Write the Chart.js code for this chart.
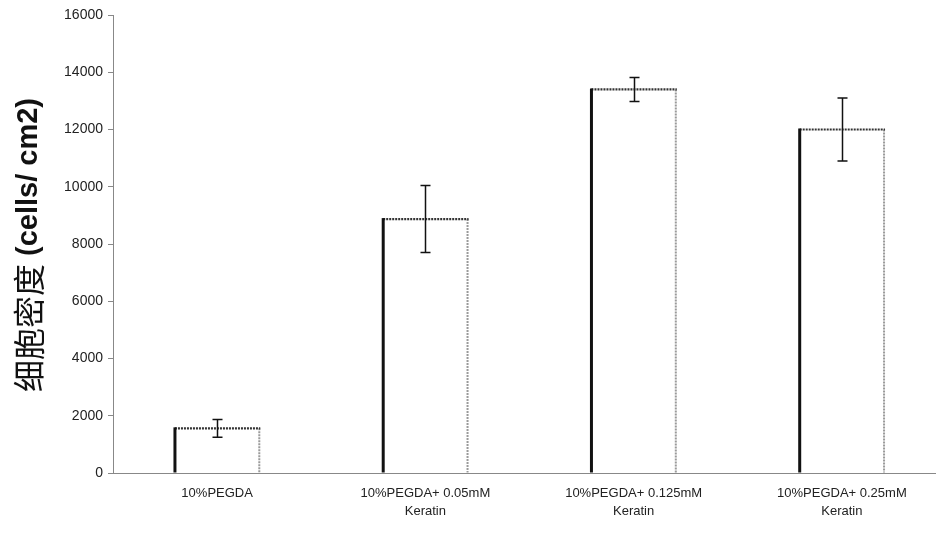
<!DOCTYPE html>
<html>
<head>
<meta charset="utf-8">
<script src="https://cdn.jsdelivr.net/npm/chart.js@4/dist/chart.umd.min.js"></script>
<style>
  html, body { margin: 0; padding: 0; background: #fff; overflow: hidden; }
  #wrap { width: 946px; height: 535px; }
</style>
</head>
<body>
<div id="wrap"><canvas id="c" width="946" height="535"></canvas></div>
<script>
const categories = [
  ["10%PEGDA"],
  ["10%PEGDA+ 0.05mM", "Keratin"],
  ["10%PEGDA+ 0.125mM", "Keratin"],
  ["10%PEGDA+ 0.25mM", "Keratin"]
];
const cellDensity = [1560, 8870, 13400, 12000];
const errorValues = [310, 1170, 420, 1100];
const yTicks = [0, 2000, 4000, 6000, 8000, 10000, 12000, 14000, 16000];
const yTitleCJK = "细胞密度";
const yTitleLatin = " (cells/ cm2)";

const barEdges = {
  id: 'barEdges',
  afterDatasetsDraw(chart) {
    const ctx = chart.ctx;
    const meta = chart.getDatasetMeta(0);
    meta.data.forEach(bar => {
      const { x, y, base, width } = bar.getProps(['x', 'y', 'base', 'width'], true);
      const l = x - width / 2, r = x + width / 2;
      ctx.save();
      ctx.strokeStyle = '#9a9a9a';
      ctx.lineWidth = 2;
      ctx.setLineDash([2, 1]);
      ctx.beginPath(); ctx.moveTo(r, y); ctx.lineTo(r, base); ctx.stroke();
      ctx.strokeStyle = '#333';
      ctx.lineWidth = 2.2;
      ctx.setLineDash([2, 1]);
      ctx.beginPath(); ctx.moveTo(l, y); ctx.lineTo(r + 1, y); ctx.stroke();
      ctx.setLineDash([]);
      ctx.strokeStyle = '#111';
      ctx.lineWidth = 3;
      ctx.beginPath(); ctx.moveTo(l, y - 1); ctx.lineTo(l, base); ctx.stroke();
      ctx.restore();
    });
  }
};

const errorBars = {
  id: 'errorBars',
  afterDatasetsDraw(chart) {
    const ctx = chart.ctx;
    const ys = chart.scales.y;
    const meta = chart.getDatasetMeta(0);
    meta.data.forEach((bar, i) => {
      const v = cellDensity[i], e = errorValues[i];
      const x = Math.round(bar.x) + 0.5;
      const top = ys.getPixelForValue(v + e);
      const bot = ys.getPixelForValue(v - e);
      ctx.save();
      ctx.strokeStyle = '#111';
      ctx.lineWidth = 1.5;
      ctx.beginPath();
      ctx.moveTo(x, top); ctx.lineTo(x, bot);
      ctx.moveTo(x - 5, top); ctx.lineTo(x + 5, top);
      ctx.moveTo(x - 5, bot); ctx.lineTo(x + 5, bot);
      ctx.stroke();
      ctx.restore();
    });
  }
};

const yTitle = {
  id: 'yTitle',
  afterDraw(chart) {
    const ctx = chart.ctx;
    ctx.save();
    ctx.translate(28, 245);
    ctx.rotate(-Math.PI / 2);
    ctx.textBaseline = 'middle';
    ctx.fillStyle = '#111';
    const f1 = "32px 'Noto Sans CJK SC'";
    const f2 = "bold 29px 'Liberation Sans', Arial, sans-serif";
    ctx.font = f1; const w1 = ctx.measureText(yTitleCJK).width;
    ctx.font = f2; const w2 = ctx.measureText(yTitleLatin).width;
    const sx = -(w1 + w2) / 2;
    ctx.textAlign = 'left';
    ctx.font = f1;
    ctx.fillText(yTitleCJK, sx, 1);
    ctx.font = f2;
    ctx.fillText(yTitleLatin, sx + w1, 1);
    ctx.restore();
  }
};

new Chart(document.getElementById('c'), {
  type: 'bar',
  data: {
    labels: categories,
    datasets: [{
      data: cellDensity,
      backgroundColor: '#ffffff',
      borderWidth: 0,
      barPercentage: 0.405,
      categoryPercentage: 1.0
    }]
  },
  options: {
    responsive: false,
    animation: false,
    layout: { padding: { top: 15, left: 0, right: 0, bottom: 0 } },
    plugins: { legend: { display: false }, tooltip: { enabled: false } },
    scales: {
      x: {
        grid: { display: false, drawTicks: false },
        border: { display: true, color: '#888', width: 1, dash: [2, 1] },
        ticks: {
          color: '#222',
          font: { family: "'Liberation Sans', Arial, sans-serif", size: 13, lineHeight: 1.35 },
          padding: 12,
          maxRotation: 0,
          autoSkip: false
        },
        afterFit(s) { s.height = 62; }
      },
      y: {
        min: 0, max: 16000,
        afterBuildTicks(s) { s.ticks = yTicks.map(v => ({ value: v })); },
        grid: { display: true, drawOnChartArea: false, drawTicks: true, tickLength: 5, color: '#888' },
        border: { display: true, color: '#888', width: 1, dash: [2, 1] },
        ticks: {
          color: '#222',
          font: { family: "'Liberation Sans', Arial, sans-serif", size: 14 },
          padding: 5,
          callback: v => String(v)
        },
        afterFit(s) { s.width = 113; }
      }
    }
  },
  plugins: [barEdges, errorBars, yTitle]
});
</script>
</body>
</html>
